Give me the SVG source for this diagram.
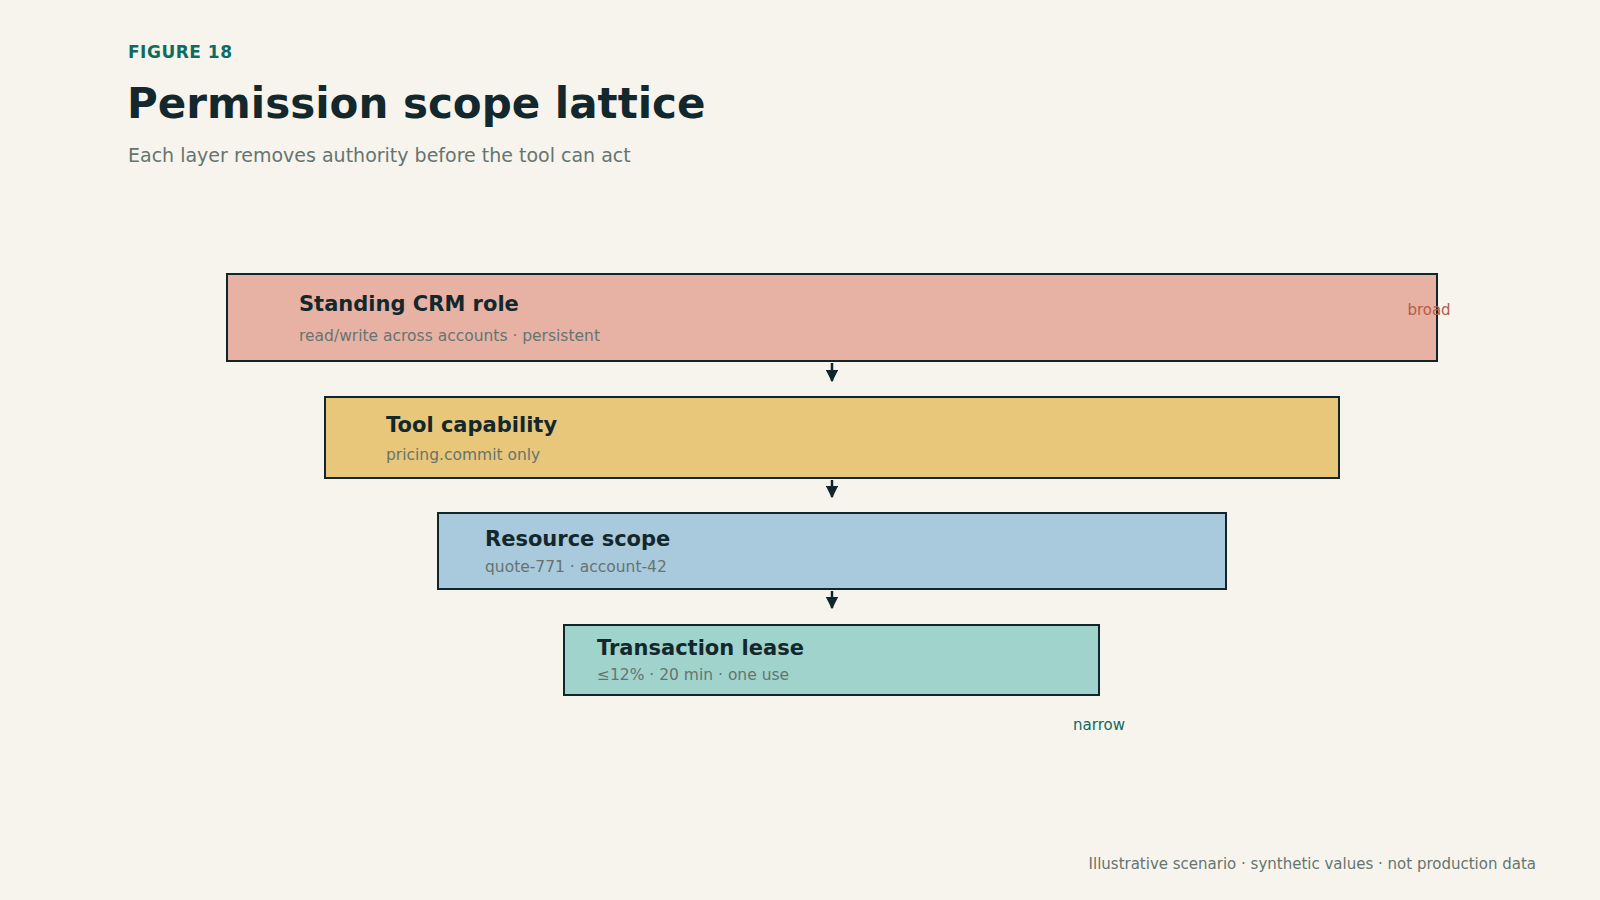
<svg xmlns="http://www.w3.org/2000/svg" width="1600" height="900" viewBox="0 0 1600 900">
<style>
text{font-family:"DejaVu Sans","Noto Sans",sans-serif}
.box{stroke:#11262a;stroke-width:2}
.t{font-size:21px;font-weight:bold;fill:#13282c}
.s{font-size:15.5px;fill:#66746f}
.c{stroke:#11262a;stroke-width:2.5;fill:none}
</style>
<defs><marker id="ah" viewBox="0 0 10 10" refX="9" refY="5" markerWidth="5" markerHeight="5" orient="auto"><path d="M0,0 L10,5 L0,10 z" fill="#11262a"/></marker></defs>
<rect width="1600" height="900" fill="#f7f4ed"/>
<text x="128" y="58" font-size="17" font-weight="bold" fill="#0d6b60" letter-spacing="0.5">FIGURE 18</text>
<text x="127" y="118" font-size="42" font-weight="bold" fill="#13282c">Permission scope lattice</text>
<text x="128" y="162" font-size="19" fill="#66746f">Each layer removes authority before the tool can act</text>
<g id="n1"><rect class="box" x="227" y="274" width="1210" height="87" fill="#e7b2a4"/><text class="t" x="299" y="311">Standing CRM role</text><text class="s" x="299" y="341">read/write across accounts · persistent</text></g>
<g id="n2"><rect class="box" x="325" y="397" width="1014" height="81" fill="#e8c67a"/><text class="t" x="386" y="432">Tool capability</text><text class="s" x="386" y="460">pricing.commit only</text></g>
<g id="n3"><rect class="box" x="438" y="513" width="788" height="76" fill="#a9c9dc"/><text class="t" x="485" y="546">Resource scope</text><text class="s" x="485" y="572">quote-771 · account-42</text></g>
<g id="n4"><rect class="box" x="564" y="625" width="535" height="70" fill="#a0d3cc"/><text class="t" x="597" y="655">Transaction lease</text><text class="s" x="597" y="680">≤12% · 20 min · one use</text></g>
<g id="connectors">
<line class="c" x1="832" y1="363" x2="832" y2="381" marker-end="url(#ah)"/>
<line class="c" x1="832" y1="480" x2="832" y2="497" marker-end="url(#ah)"/>
<line class="c" x1="832" y1="591" x2="832" y2="608" marker-end="url(#ah)"/>
</g>
<text x="1429" y="315" font-size="15" fill="#b65a45" text-anchor="middle">broad</text>
<text x="1099" y="730" font-size="15" fill="#0d6b60" text-anchor="middle">narrow</text>
<text x="1536" y="869" font-size="15" fill="#66746f" text-anchor="end">Illustrative scenario · synthetic values · not production data</text>
</svg>
